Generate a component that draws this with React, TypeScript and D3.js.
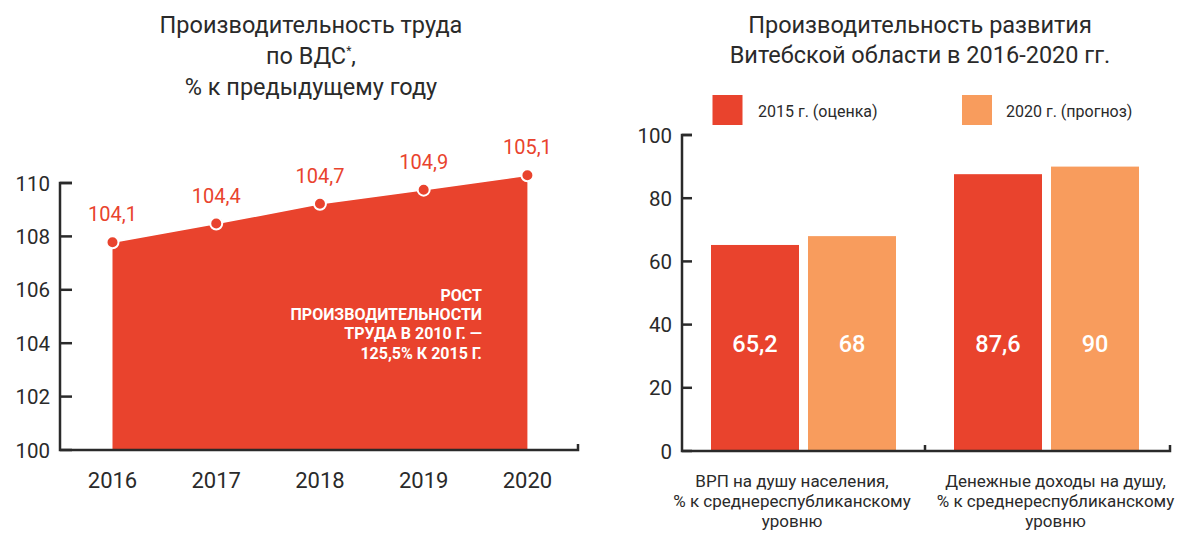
import React from "react";
import * as d3 from "d3";

const years = ["2016", "2017", "2018", "2019", "2020"];
const areaValues = [107.78, 108.48, 109.22, 109.75, 110.29];
const areaLabels = ["104,1", "104,4", "104,7", "104,9", "105,1"];
const leftTicks = [100, 102, 104, 106, 108, 110];
const leftTitle = ["Производительность труда", "по ВДС", "% к предыдущему году"];
const noteLines = ["РОСТ", "ПРОИЗВОДИТЕЛЬНОСТИ", "ТРУДА В 2010 Г. —", "125,5% К 2015 Г."];

const rightTitle = ["Производительность развития", "Витебской области в 2016-2020 гг."];
const seriesNames = ["2015 г. (оценка)", "2020 г. (прогноз)"];
const categories = ["ВРП", "Доходы"];
const categoryLabels = [
  ["ВРП на душу населения,", "% к среднереспубликанскому", "уровню"],
  ["Денежные доходы на душу,", "% к среднереспубликанскому", "уровню"],
];
const values2015 = [65.2, 87.6];
const values2020 = [68, 90];
const barLabels2015 = ["65,2", "87,6"];
const barLabels2020 = ["68", "90"];
const rightTicks = [0, 20, 40, 60, 80, 100];

const RED = "#E9432D";
const ORANGE = "#F89C5D";
const DARK = "#2a2a2a";
const FONT = "Roboto, 'Noto Sans', sans-serif";

export default function App() {
  // Left chart scales
  const xL = d3.scalePoint<string>().domain(years).range([112.5, 527.4]);
  const yL = d3.scaleLinear().domain([100, 110]).range([450, 183]);
  const pts = years.map((y, i) => ({ x: xL(y)!, v: areaValues[i] }));
  const area = d3
    .area<{ x: number; v: number }>()
    .x((d) => d.x)
    .y0(yL(100))
    .y1((d) => yL(d.v))(pts)!;
  const line = d3
    .line<{ x: number; v: number }>()
    .x((d) => d.x)
    .y((d) => yL(d.v))(pts)!;

  // Right chart scales
  const xR = d3.scaleBand<string>().domain(categories).range([682, 1168]);
  const yR = d3.scaleLinear().domain([0, 100]).range([451, 135]);
  const barW = 88;
  const gap = 9;
  const labelShift = [-11.5, 9];

  const axisLeftX = 60;
  const axisRightX = 682;

  return (
    <svg width={1184} height={534} style={{ position: "absolute", left: 0, top: 0 }} fontFamily={FONT}>
      <rect width={1184} height={534} fill="#fff" />
      {/* Left title */}
      {leftTitle.map((t, i) => (
        <text key={i} x={311} y={33 + i * 31} textAnchor="middle" fontSize={23.5} fill={DARK}>
          {t}
          {i === 1 ? (
            <>
              <tspan fontSize={12} dy={-9}>*</tspan>
              <tspan dy={9}>,</tspan>
            </>
          ) : null}
        </text>
      ))}

      {/* Left area */}
      <path d={area} fill={RED} />
      <path d={line} fill="none" stroke="#fff" strokeWidth={1.5} />
      {pts.map((p, i) => (
        <circle key={i} cx={p.x} cy={yL(p.v)} r={6} fill={RED} stroke="#fff" strokeWidth={2} />
      ))}
      {pts.map((p, i) => (
        <text key={i} x={p.x} y={yL(p.v) - 21} textAnchor="middle" fontSize={20} fill={RED}>
          {areaLabels[i]}
        </text>
      ))}
      {noteLines.map((t, i) => (
        <text key={i} x={482} y={301 + i * 19.2} textAnchor="end" fontSize={16} fontWeight={700} fill="#fff">
          {t}
        </text>
      ))}

      {/* Left axes */}
      <path
        d={`M${axisLeftX + 12},${yL(110)}H${axisLeftX}V${yL(100)}H578V${yL(100) - 6}`}
        fill="none"
        stroke={DARK}
        strokeWidth={2.5}
      />
      {leftTicks.map((t) => (
        <g key={t}>
          <line x1={axisLeftX} x2={axisLeftX + 12} y1={yL(t)} y2={yL(t)} stroke={DARK} strokeWidth={2.5} />
          <text x={50} y={yL(t) + 7.5} textAnchor="end" fontSize={20.5} fill={DARK}>
            {t}
          </text>
        </g>
      ))}
      {years.map((y) => (
        <text key={y} x={xL(y)!} y={488} textAnchor="middle" fontSize={22} fill={DARK}>
          {y}
        </text>
      ))}

      {/* Right title */}
      {rightTitle.map((t, i) => (
        <text key={i} x={920} y={33 + i * 30} textAnchor="middle" fontSize={23.5} fill={DARK}>
          {t}
        </text>
      ))}
      {/* Legend */}
      {seriesNames.map((s, i) => (
        <g key={s}>
          <rect x={712.5 + i * 249.5} y={95} width={30} height={30} fill={i === 0 ? RED : ORANGE} />
          <text x={758 + i * 248} y={116.5} fontSize={16} fill={DARK}>
            {s}
          </text>
        </g>
      ))}

      {/* Bars */}
      {categories.map((c, i) => {
        const cx = xR(c)! + xR.bandwidth() / 2;
        const x1 = cx - gap / 2 - barW;
        const x2 = cx + gap / 2;
        return (
          <g key={c}>
            <rect x={x1} y={yR(values2015[i])} width={barW} height={yR(0) - yR(values2015[i])} fill={RED} />
            <rect x={x2} y={yR(values2020[i])} width={barW} height={yR(0) - yR(values2020[i])} fill={ORANGE} />
            <text x={x1 + barW / 2} y={352} textAnchor="middle" fontSize={23.5} fontWeight={500} fill="#fff">
              {barLabels2015[i]}
            </text>
            <text x={x2 + barW / 2} y={352} textAnchor="middle" fontSize={23.5} fontWeight={500} fill="#fff">
              {barLabels2020[i]}
            </text>
            {categoryLabels[i].map((t, j) => (
              <text key={j} x={cx + labelShift[i]} y={487 + j * 20} textAnchor="middle" fontSize={17} fill={DARK}>
                {t}
              </text>
            ))}
          </g>
        );
      })}

      {/* Right axes */}
      <path
        d={`M${axisRightX + 10},${yR(100)}H${axisRightX}V${yR(0)}H1170V${yR(0) - 6}M${xR("Доходы")!},${yR(0)}V${yR(0) - 6}`}
        fill="none"
        stroke={DARK}
        strokeWidth={2.5}
      />
      {rightTicks.map((t) => (
        <g key={t}>
          <line x1={axisRightX} x2={axisRightX + 10} y1={yR(t)} y2={yR(t)} stroke={DARK} strokeWidth={2.5} />
          <text x={672} y={yR(t) + 7.5} textAnchor="end" fontSize={20.5} fill={DARK}>
            {t}
          </text>
        </g>
      ))}
    </svg>
  );
}
